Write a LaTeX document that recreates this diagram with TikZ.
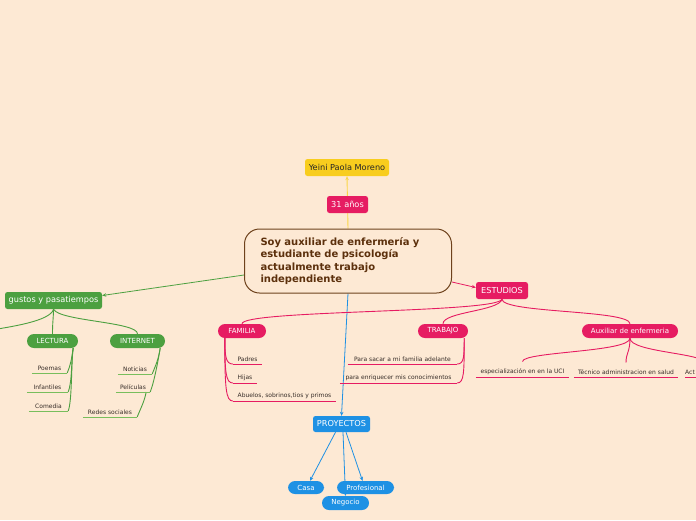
\documentclass[tikz,border=0pt]{standalone}
\usepackage{fontspec}
\setmainfont{DejaVu Sans}
\usepackage{xcolor}
\usetikzlibrary{positioning,arrows.meta,backgrounds}
\definecolor{bgcolor}{RGB}{253,233,212}
\definecolor{yelcolor}{RGB}{248,205,30}
\definecolor{yelline}{RGB}{250,214,70}
\definecolor{pinkcolor}{RGB}{230,28,98}
\definecolor{grncolor}{RGB}{76,160,64}
\definecolor{grnline}{RGB}{120,190,92}
\definecolor{bluecolor}{RGB}{30,145,228}
\definecolor{browncolor}{RGB}{110,66,28}
\definecolor{centtext}{RGB}{92,48,12}
\definecolor{leafcolor}{RGB}{55,45,40}

\begin{document}
\begin{tikzpicture}[x=1pt, y=-1pt,
  topic/.style   = {rectangle, rounded corners=2.5pt, inner sep=0pt,
                    minimum height=17pt, text=white,
                    font=\fontsize{8.2}{9}\selectfont},
  sub/.style     = {rectangle, rounded corners=7pt, inner sep=0pt,
                    minimum height=14pt, text=white,
                    font=\fontsize{7}{8}\selectfont},
  central/.style = {rectangle, rounded corners=15pt, draw=browncolor,
                    line width=1pt, inner xsep=16pt, text width=175pt,
                    minimum height=64pt, align=left, text=centtext,
                    font=\fontsize{10}{12.3}\selectfont\bfseries},
  leaf/.style    = {inner xsep=0pt, inner ysep=2.5pt, anchor=south,
                    text=leafcolor, font=\fontsize{6}{7}\selectfont},
  tip/.style     = {-{Stealth[length=4pt,width=3.5pt]}},
  gline/.style   = {line width=0.9pt, draw=grncolor},
  pline/.style   = {line width=0.9pt, draw=pinkcolor},
  bline/.style   = {line width=0.8pt, draw=bluecolor, tip}
]
\useasboundingbox (0,0) rectangle (696,520);

% main topics
\node[topic, fill=yelcolor, text=black!85, minimum width=84pt] (yeini) at (347,167.5) {Yeini Paola Moreno};
\node[topic, fill=pinkcolor, minimum width=41pt] (edad) at (347.5,204.5) {31 años};
\node[central] (central) at (348,261)
      {Soy auxiliar de enfermería y\\estudiante de psicología\\actualmente trabajo\\independiente};

\node[topic, fill=grncolor, minimum width=97pt] (gustos) at (53.5,300.5) {gustos y pasatiempos};
\node[sub, fill=grncolor, minimum width=51pt] (lectura) at (52.5,341) {LECTURA};
\node[sub, fill=grncolor, minimum width=55pt] (internet) at (137.5,341) {INTERNET};

\node[topic, fill=pinkcolor, minimum width=52pt] (estudios) at (502,290.5) {ESTUDIOS};
\node[sub, fill=pinkcolor, minimum width=48pt] (familia) at (242,331) {FAMILIA};
\node[sub, fill=pinkcolor, minimum width=50pt] (trabajo) at (443,331) {TRABAJO};
\node[sub, fill=pinkcolor, minimum width=96pt] (auxiliar) at (630,331) {Auxiliar de enfermeria};

\node[topic, fill=bluecolor, minimum width=57pt, minimum height=16pt] (proyectos) at (341.5,424) {PROYECTOS};
\node[sub, fill=bluecolor, minimum width=36pt, minimum height=13pt] (casa) at (306,487.5) {Casa};
\node[sub, fill=bluecolor, minimum width=57pt, minimum height=13pt] (profesional) at (365.5,487.5) {Profesional};
\node[sub, fill=bluecolor, minimum width=47pt] (negocio) at (345.5,503) {Negocio};

% leaves
\node[leaf, minimum width=35pt] (poemas) at (49.5,373) {Poemas};
\node[leaf, minimum width=41pt] (infantiles) at (47.5,392) {Infantiles};
\node[leaf, minimum width=39pt] (comedia) at (48.5,411) {Comedia};
\node[leaf, minimum width=34pt] (noticias) at (135,374) {Noticias};
\node[leaf, minimum width=34pt] (peliculas) at (133,392) {Películas};
\node[leaf, minimum width=54pt] (redes) at (110,417) {Redes sociales};

\node[leaf, minimum width=29pt] (padres) at (247.5,364) {Padres};
\node[leaf, minimum width=24pt] (hijas) at (245,383) {Hijas};
\node[leaf, minimum width=103pt] (abuelos) at (284.5,401) {Abuelos, sobrinos,tios y primos};
\node[leaf, minimum width=109pt] (sacar) at (402.5,364) {Para sacar a mi familia adelante};
\node[leaf, minimum width=117pt] (enriquecer) at (398.5,383) {para enriquecer mis conocimientos};
\node[leaf, minimum width=93pt] (especial) at (522.5,377) {especialización en en la UCI};
\node[leaf, minimum width=104pt] (tecnico) at (626,377) {Técnico administracion en salud};
\node[leaf, anchor=south west, text width=40pt, align=left] (act) at (685,377) {Act};

\coordinate (gustos-out) at (-15,331);

\begin{scope}[on background layer]
  \fill[bgcolor] (0,0) rectangle (696,520);

  % from the central idea
  \draw[tip, line width=0.9pt, yelline] (central.north) -- (yeini.south);
  \draw[tip, line width=0.8pt, grncolor] ([yshift=-14pt]central.west) -- ([yshift=5pt]gustos.east);
  \draw[tip, line width=0.8pt, pinkcolor] ([yshift=-21pt]central.east) -- ([yshift=3pt]estudios.west);
  \draw[bline] (central.south) -- (proyectos.north);

  % gustos y pasatiempos
  \draw[gline] (gustos.south) .. controls +(0,8) and +(0,-12) .. (lectura.north);
  \draw[gline] (gustos.south) .. controls +(6,12) and +(0,-12) .. (internet.north);
  \draw[gline] (gustos.south) .. controls +(-3,12) and +(25,-4) .. (gustos-out);
  \foreach \leaf in {poemas,infantiles,comedia}{
    \draw[gline] ([xshift=-5pt]lectura.south east) .. controls +(-2,12) and +(4,-10) .. (\leaf.south east);
  }
  \foreach \leaf in {noticias,peliculas}{
    \draw[gline] ([xshift=-5pt]internet.south east) .. controls +(-2,12) and +(4,-10) .. (\leaf.south east);
  }
  \draw[gline] ([xshift=-4pt]peliculas.south east) .. controls +(-2,10) and +(4,-10) .. (redes.south east);
  \foreach \leaf in {poemas,infantiles,comedia,noticias,peliculas,redes}{
    \draw[line width=1pt, grnline] (\leaf.south west) -- (\leaf.south east);
  }

  % estudios
  \draw[pline] (estudios.south) .. controls +(-5,14) and +(0,-14) .. (familia.north);
  \draw[pline] (estudios.south) .. controls +(-3,12) and +(0,-12) .. (trabajo.north);
  \draw[pline] (estudios.south) .. controls +(0,14) and +(0,-14) .. (auxiliar.north);
  \foreach \leaf/\d in {padres/18, hijas/34, abuelos/50}{
    \draw[pline] ([xshift=7pt]familia.south west) .. controls +(0,\d) and +(-7,0) .. (\leaf.south west);
  }
  \foreach \leaf/\d in {sacar/18, enriquecer/34}{
    \draw[pline] ([xshift=-4pt]trabajo.south east) .. controls +(0,\d) and +(7,0) .. (\leaf.south east);
  }
  \foreach \leaf in {especial,tecnico,act}{
    \draw[pline] (auxiliar.south) .. controls +(0,14) and +(0,-10) .. ([yshift=4pt]\leaf.north);
  }
  \foreach \leaf in {padres,hijas,abuelos,sacar,enriquecer,especial,tecnico,act}{
    \draw[line width=1pt, pinkcolor] (\leaf.south west) -- (\leaf.south east);
  }

  % proyectos
  \draw[bline] ([xshift=-6pt]proyectos.south) -- ([xshift=4pt]casa.north);
  \draw[bline] ([xshift=1.5pt]proyectos.south) -- (negocio.north);
  \draw[bline] ([xshift=4.5pt]proyectos.south) -- ([xshift=-3pt]profesional.north);
\end{scope}
\end{tikzpicture}
\end{document}
